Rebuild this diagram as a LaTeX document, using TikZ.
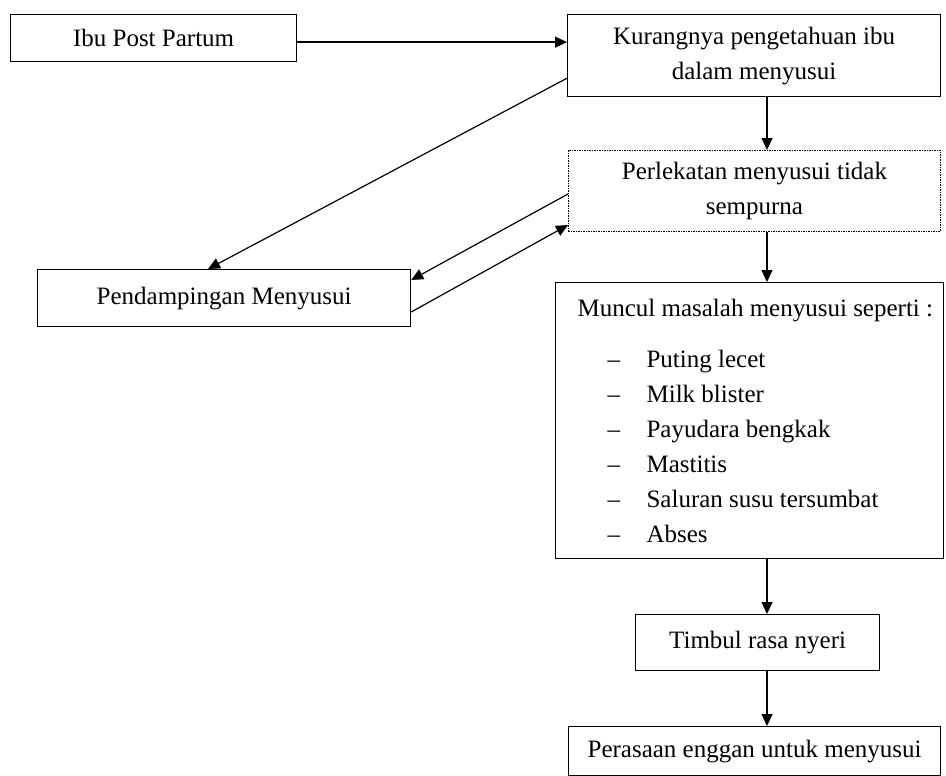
\documentclass[tikz,border=0pt]{standalone}
\usepackage{fontspec}
\setmainfont{Liberation Serif}
\usetikzlibrary{arrows.meta}
\usetikzlibrary{calc}
\tikzset{>={Triangle[length=12pt,width=11pt]}}
\tikzset{box/.style={draw, line width=1.2pt, inner sep=0pt, align=center, anchor=north west}}
\tikzset{dotbox/.style={box, line width=0.9pt, dash pattern=on 1.5pt off 1pt}}
\tikzset{ar/.style={->, line width=1.2pt}}
\newcommand{\itm}[1]{\hspace*{52pt}\makebox[39pt][l]{--}#1}

\begin{document}
\begin{tikzpicture}[x=1pt, y=-1pt, font=\fontsize{25}{35}\selectfont]
\useasboundingbox (0,0) rectangle (946,776);

\node[box, minimum width=286, minimum height=47] (ibu) at (10,14) {Ibu Post Partum};
\node[box, minimum width=373, minimum height=82] (kurang) at (567,14)
  {Kurangnya pengetahuan ibu\\dalam menyusui};
\node[dotbox, minimum width=372, minimum height=81] (lekat) at (568,150)
  {Perlekatan menyusui tidak\\sempurna};
\node[box, minimum width=373, minimum height=57] (damping) at (37,269) {Pendampingan Menyusui};

\node[box, minimum width=388, minimum height=276, text width=388, align=flush left] (muncul) at (555,282)
  {\hspace*{22pt}Muncul masalah menyusui seperti :\\[16pt]
   \itm{Puting lecet}\\
   \itm{Milk blister}\\
   \itm{Payudara bengkak}\\
   \itm{Mastitis}\\
   \itm{Saluran susu tersumbat}\\
   \itm{Abses}};

\node[box, minimum width=244, minimum height=56] (nyeri) at (635,614) {Timbul rasa nyeri};
\node[box, minimum width=372, minimum height=49] (enggan) at (568,726) {Perasaan enggan untuk menyusui};

\coordinate (axis) at (767,0);

\draw[ar] ($(ibu.east)+(0,4)$) -- ($(ibu.east -| kurang.west)+(0,4)$);
\draw[ar] (kurang.south -| axis) -- (lekat.north -| axis);
\draw[ar] (lekat.south -| axis) -- (muncul.north -| axis);
\draw[ar] (muncul.south -| axis) -- (nyeri.north -| axis);
\draw[ar] (nyeri.south -| axis) -- (enggan.north -| axis);

\draw[ar] ($(kurang.south west)+(0,-19)$) -- ($(damping.north west)+(171,0)$);
\draw[ar] ($(lekat.north west)+(0,44)$) -- ($(damping.north east)+(0,11)$);
\draw[ar] ($(damping.north east)+(0,43)$) -- ($(lekat.north west)+(0,75)$);

\end{tikzpicture}
\end{document}
